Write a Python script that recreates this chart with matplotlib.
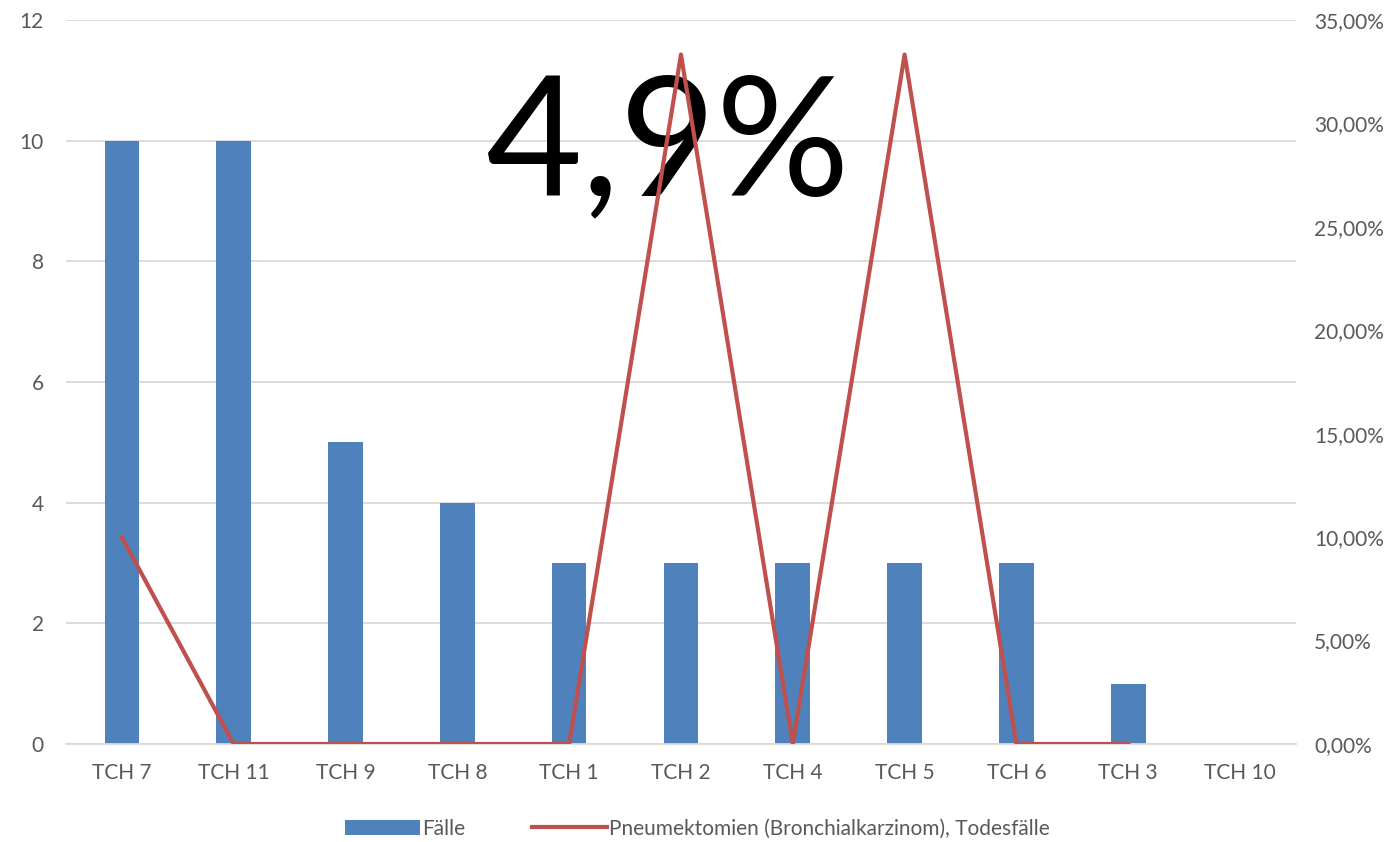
import matplotlib
matplotlib.use("Agg")
import matplotlib.pyplot as plt
from matplotlib.ticker import FuncFormatter
import numpy as np

plt.rcParams['font.family'] = ['Lato', 'DejaVu Sans']

# data
categories = ['TCH 7', 'TCH 11', 'TCH 9', 'TCH 8', 'TCH 1', 'TCH 2', 'TCH 4', 'TCH 5', 'TCH 6', 'TCH 3', 'TCH 10']
faelle = [10, 10, 5, 4, 3, 3, 3, 3, 3, 1, 0]
todesfaelle = [0.10, 0.0, 0.0, 0.0, 0.0, 1/3, 0.0, 1/3, 0.0, 0.0, np.nan]

bar_col = '#4F81BD'
line_col = '#C0504D'
txt_col = '#595959'

fig = plt.figure(figsize=(13.94, 8.42), dpi=100)
ax = fig.add_axes([0.0473, 0.1164, 0.8824, 0.8598])
ax2 = ax.twinx()

x = np.arange(len(categories))
ax.bar(x, faelle, width=0.31, color=bar_col, zorder=2, label='Fälle')
ax2.plot(x, todesfaelle, color=line_col, lw=3, zorder=3,
         label='Pneumektomien (Bronchialkarzinom), Todesfälle')

ax.set_xlim(-0.5, len(categories) - 0.5)
ax.set_ylim(0, 12)
ax.set_yticks(range(0, 13, 2))
ax2.set_ylim(0, 0.35)
ax2.set_yticks(np.arange(0, 0.351, 0.05))
ax2.yaxis.set_major_formatter(FuncFormatter(lambda v, p: ('%.2f%%' % (v * 100)).replace('.', ',')))

ax.set_xticks(x)
ax.set_xticklabels(categories)
ax.grid(axis='y', color='#D9D9D9', lw=1.3, zorder=0)
ax.set_axisbelow(True)

for a in (ax, ax2):
    for s in a.spines.values():
        s.set_visible(False)
    a.tick_params(length=0, labelsize=15, colors=txt_col)
ax.tick_params(axis='x', pad=14)
ax.tick_params(axis='y', pad=16)
ax2.tick_params(axis='y', pad=13)
ax.spines['bottom'].set_visible(True)
ax.spines['bottom'].set_color('#D9D9D9')
ax.spines['bottom'].set_linewidth(1.3)

# big overlay number, under the line
ax2.text(0.479, 0.7684, '4,9%', fontsize=120, color='black', ha='center', va='baseline',
         transform=fig.transFigure, zorder=1)

h1, l1 = ax.get_legend_handles_labels()
h2, l2 = ax2.get_legend_handles_labels()
fig.legend(h1 + h2, l1 + l2, loc='center', bbox_to_anchor=(0.5, 0.016), ncol=2,
           frameon=False, fontsize=15, labelcolor=txt_col, handlelength=3.6,
           handletextpad=0.1, columnspacing=3.2)

fig.savefig('out.png', dpi=100)
